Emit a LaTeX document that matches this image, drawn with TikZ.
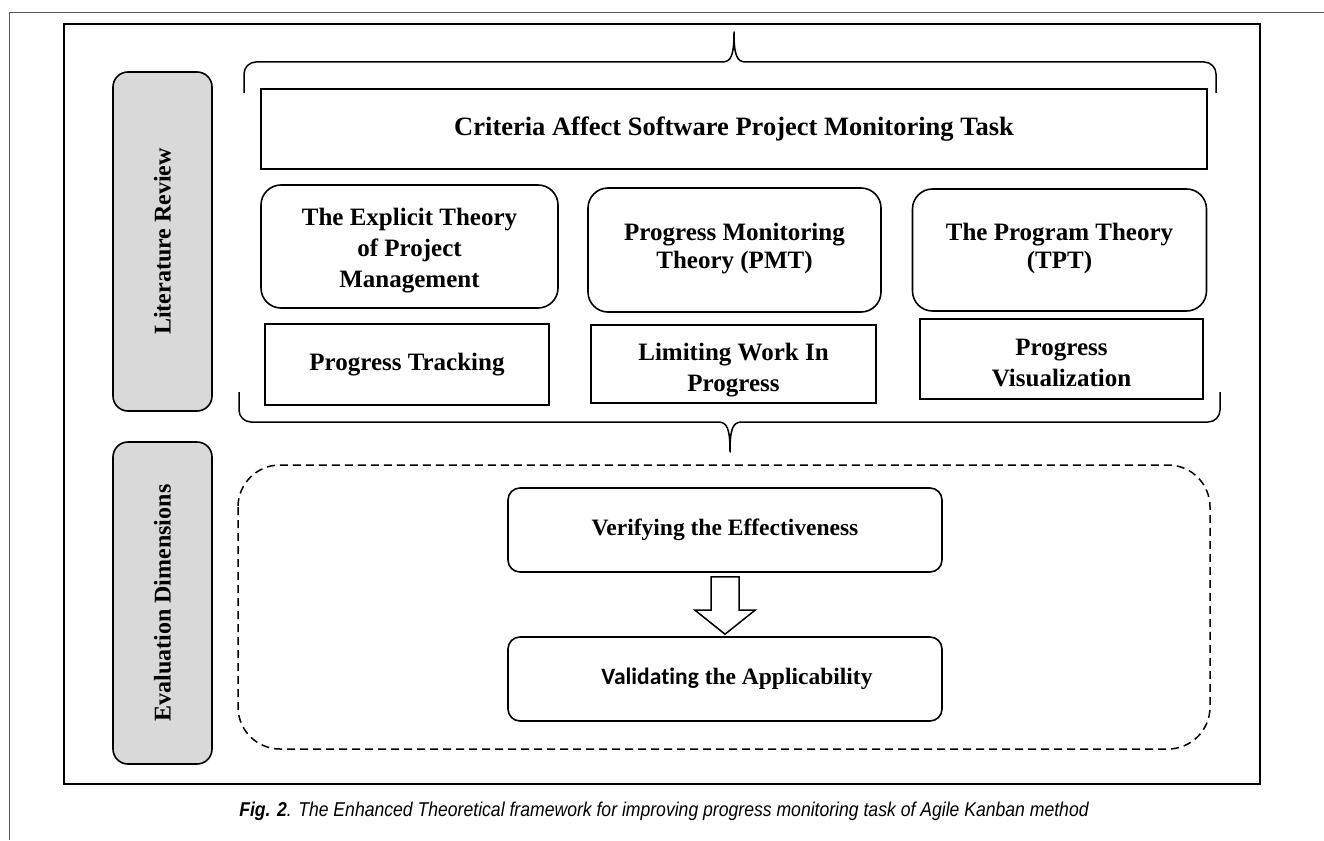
\documentclass[tikz,border=0pt]{standalone}
\usepackage{graphicx}
\usepackage{fontspec}
\setmainfont{Liberation Serif}
\newfontfamily\capfont[FakeStretch=0.88]{Liberation Sans}
\newfontfamily\calfont[Ligatures=NoCommon]{Carlito}
\usetikzlibrary{calc}

\tikzset{every picture/.append style={x=1pt, y=-1pt}}
\tikzset{
  frameline/.style={line width=2.4pt},
  sidebox/.style={draw, line width=1.6pt, rounded corners=15pt, fill=gray!30,
    inner sep=0pt, minimum width=99pt, font=\fontsize{24}{28}\selectfont\bfseries},
  critbox/.style={draw, line width=1.6pt, inner sep=0pt, minimum width=946pt,
    minimum height=80pt, font=\fontsize{26.5}{31}\selectfont\bfseries},
  theorybox/.style={draw, line width=1.6pt, rounded corners=20pt, inner sep=0pt,
    align=center, font=\fontsize{25}{31}\selectfont\bfseries},
  factorbox/.style={draw, line width=1.6pt, inner sep=0pt, align=center,
    font=\fontsize{25}{31}\selectfont\bfseries},
  evalbox/.style={draw, line width=1.6pt, rounded corners=12pt, inner sep=0pt,
    minimum width=434pt, minimum height=84pt, font=\fontsize{23.5}{28}\selectfont\bfseries},
  brace/.style={line width=1.5pt, line join=round},
  blockarrow/.style={draw, line width=1.5pt, fill=white, line join=miter}
}

\begin{document}
\begin{tikzpicture}
  \useasboundingbox (0,0) rectangle (1324,840);
  % frames
  \draw[gray!70!black, line width=0.8pt] (9,840) -- (9,12) -- (1324,12);
  \draw[frameline] (64,24) rectangle (1260,784);

  % side labels
  \node[sidebox, minimum height=339pt] (litrev) at (162.5,241.5) {\rotatebox{90}{Literature Review}};
  \node[sidebox, minimum height=322pt] (evaldim) at (162.5,603) {\rotatebox{90}{Evaluation Dimensions}};

  % literature review part
  \draw[brace] (244,93) -- (244,74) to[out=90, in=180] (256,62) -- (722,62)
    .. controls (731,62) and (734,56) .. (734,32)
    .. controls (734,56) and (737,62) .. (746,62) -- (1204,62)
    to[out=0, in=90] (1216,74) -- (1216,93);
  \node[critbox] (criteria) at (734,129) {Criteria Affect Software Project Monitoring Task};
  \node[theorybox, minimum width=297pt, minimum height=123pt] (explicit) at (409.5,246.5)
    {\rule{0pt}{26pt}The Explicit Theory\\of Project\\Management};
  \node[theorybox, minimum width=293pt, minimum height=124pt] (pmt) at (734.5,250)
    {Progress Monitoring\\[-3pt]Theory (PMT)\\[-22pt]\mbox{}};
  \node[theorybox, minimum width=294pt, minimum height=122pt] (tpt) at (1059.5,250)
    {The Program Theory\\[-3pt](TPT)\\[-22pt]\mbox{}};
  \node[factorbox, minimum width=284pt, minimum height=81pt] (tracking) at (407,364.5)
    {Progress Tracking};
  \node[factorbox, minimum width=285pt, minimum height=78pt] (wip) at (733.5,364)
    {\rule{0pt}{30pt}Limiting Work In\\Progress};
  \node[factorbox, minimum width=283pt, minimum height=80pt] (visual) at (1061.5,359)
    {\rule{0pt}{24pt}Progress\\Visualization};
  \draw[brace] (239,392) -- (239,410) to[out=-90, in=180] (251,422) -- (718,422)
    .. controls (727,422) and (730,428) .. (730,452)
    .. controls (730,428) and (733,422) .. (742,422) -- (1208,422)
    to[out=0, in=-90] (1220,410) -- (1220,392);

  % evaluation part
  \draw[line width=1.5pt, dash pattern=on 8pt off 5pt, rounded corners=42pt]
    (238,465) rectangle (1210,749);
  \node[evalbox] (verify) at (725,530) {\raisebox{3pt}{Verifying the Effectiveness}};
  \node[evalbox] (validate) at (725,679) {\hspace*{24pt}{\calfont Validating} the Applicability};
  \path (verify.south) ++(0,4) coordinate (atop);
  \path (validate.north) ++(0,-2) coordinate (atip);
  \draw[blockarrow] ($(atop)+(-14,0)$) -- ($(atop)+(14,0)$) -- ($(atip)+(14,-24)$)
    -- ($(atip)+(30,-24)$) -- (atip) -- ($(atip)+(-30,-24)$)
    -- ($(atip)+(-14,-24)$) -- cycle;

  % caption
  \node (caption) at (664,811) {\capfont\fontsize{20}{24}\selectfont\itshape
    \textbf{Fig. 2}. The Enhanced Theoretical framework for improving progress monitoring task of Agile Kanban method};
\end{tikzpicture}
\end{document}
